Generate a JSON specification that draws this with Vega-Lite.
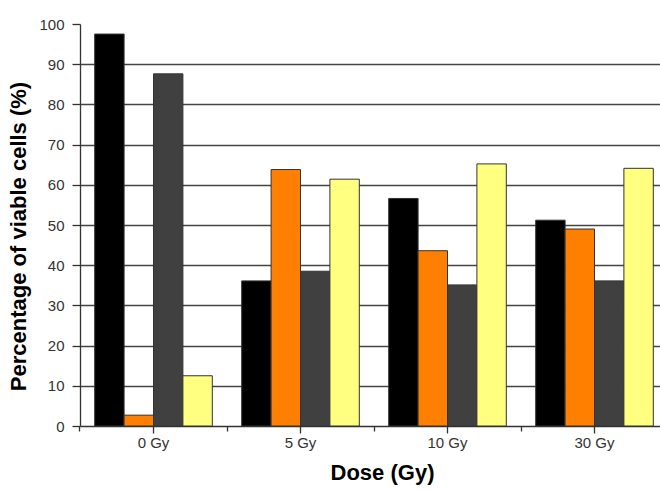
{
  "$schema": "https://vega.github.io/schema/vega-lite/v6.json",
  "width": 580,
  "height": 402,
  "autosize": {"type": "none"},
  "padding": {"left": 80, "top": 24, "right": 0, "bottom": 65},
  "background": "white",
  "config": {
    "view": {"stroke": null},
    "font": "Liberation Sans",
    "axis": {
      "labelFont": "Liberation Sans",
      "titleFont": "Liberation Sans",
      "labelColor": "#333333",
      "titleColor": "#000000",
      "labelFontSize": 15,
      "titleFontSize": 22,
      "titleFontWeight": "bold",
      "domainColor": "#333333",
      "tickColor": "#333333",
      "domainWidth": 1.3,
      "tickWidth": 1.3
    }
  },
  "data": {
    "values": [
      {"dose": "0 Gy", "series": "A", "pct": 97.5},
      {"dose": "0 Gy", "series": "B", "pct": 2.7},
      {"dose": "0 Gy", "series": "C", "pct": 87.6},
      {"dose": "0 Gy", "series": "D", "pct": 12.5},
      {"dose": "5 Gy", "series": "A", "pct": 36.1},
      {"dose": "5 Gy", "series": "B", "pct": 63.8},
      {"dose": "5 Gy", "series": "C", "pct": 38.5},
      {"dose": "5 Gy", "series": "D", "pct": 61.4},
      {"dose": "10 Gy", "series": "A", "pct": 56.6},
      {"dose": "10 Gy", "series": "B", "pct": 43.6},
      {"dose": "10 Gy", "series": "C", "pct": 35.1},
      {"dose": "10 Gy", "series": "D", "pct": 65.2},
      {"dose": "30 Gy", "series": "A", "pct": 51.2},
      {"dose": "30 Gy", "series": "B", "pct": 49.0},
      {"dose": "30 Gy", "series": "C", "pct": 36.1},
      {"dose": "30 Gy", "series": "D", "pct": 64.1}
    ]
  },
  "resolve": {"axis": {"x": "independent"}},
  "layer": [
    {
      "mark": {"type": "bar", "stroke": "#333333", "strokeWidth": 1},
      "encoding": {
        "x": {
          "field": "dose",
          "type": "nominal",
          "sort": ["0 Gy", "5 Gy", "10 Gy", "30 Gy"],
          "scale": {"range": [0, 588], "paddingInner": 0.2, "paddingOuter": 0.1},
          "title": "Dose (Gy)",
          "axis": {
            "orient": "bottom",
            "labelAngle": 0,
            "tickSize": 7,
            "labelPadding": 2,
            "titlePadding": 12,
            "titleX": 302,
            "grid": false
          }
        },
        "xOffset": {
          "field": "series",
          "type": "nominal",
          "sort": ["A", "B", "C", "D"],
          "scale": {"paddingInner": 0, "paddingOuter": 0}
        },
        "y": {
          "field": "pct",
          "type": "quantitative",
          "scale": {"domain": [0, 100], "nice": false},
          "title": "Percentage of viable cells (%)",
          "axis": {
            "values": [0, 5, 10, 15, 20, 25, 30, 35, 40, 45, 50, 55, 60, 65, 70, 75, 80, 85, 90, 95, 100],
            "labelExpr": "datum.value % 10 === 0 ? datum.label : ''",
            "tickSize": {"condition": {"test": "datum.value % 10 === 0", "value": 8}, "value": 5},
            "labelPadding": 8,
            "titlePadding": 8,
            "titleY": 212,
            "grid": true,
            "gridColor": "#444444",
            "gridWidth": 1.4,
            "gridOpacity": {"condition": {"test": "datum.value % 10 === 0 && datum.value > 0 && datum.value < 100", "value": 1}, "value": 0}
          }
        },
        "fill": {
          "field": "series",
          "type": "nominal",
          "scale": {"domain": ["A", "B", "C", "D"], "range": ["#000000", "#FF8000", "#404040", "#FFFF80"]},
          "legend": null
        }
      }
    },
    {
      "mark": {"type": "bar", "opacity": 0},
      "encoding": {
        "x": {
          "field": "dose",
          "type": "nominal",
          "sort": ["0 Gy", "5 Gy", "10 Gy", "30 Gy"],
          "axis": {
            "orient": "bottom",
            "bandPosition": -0.125,
            "labels": false,
            "domain": false,
            "tickSize": 5,
            "title": null,
            "grid": false
          }
        },
        "y": {"field": "pct", "type": "quantitative"}
      }
    }
  ]
}
